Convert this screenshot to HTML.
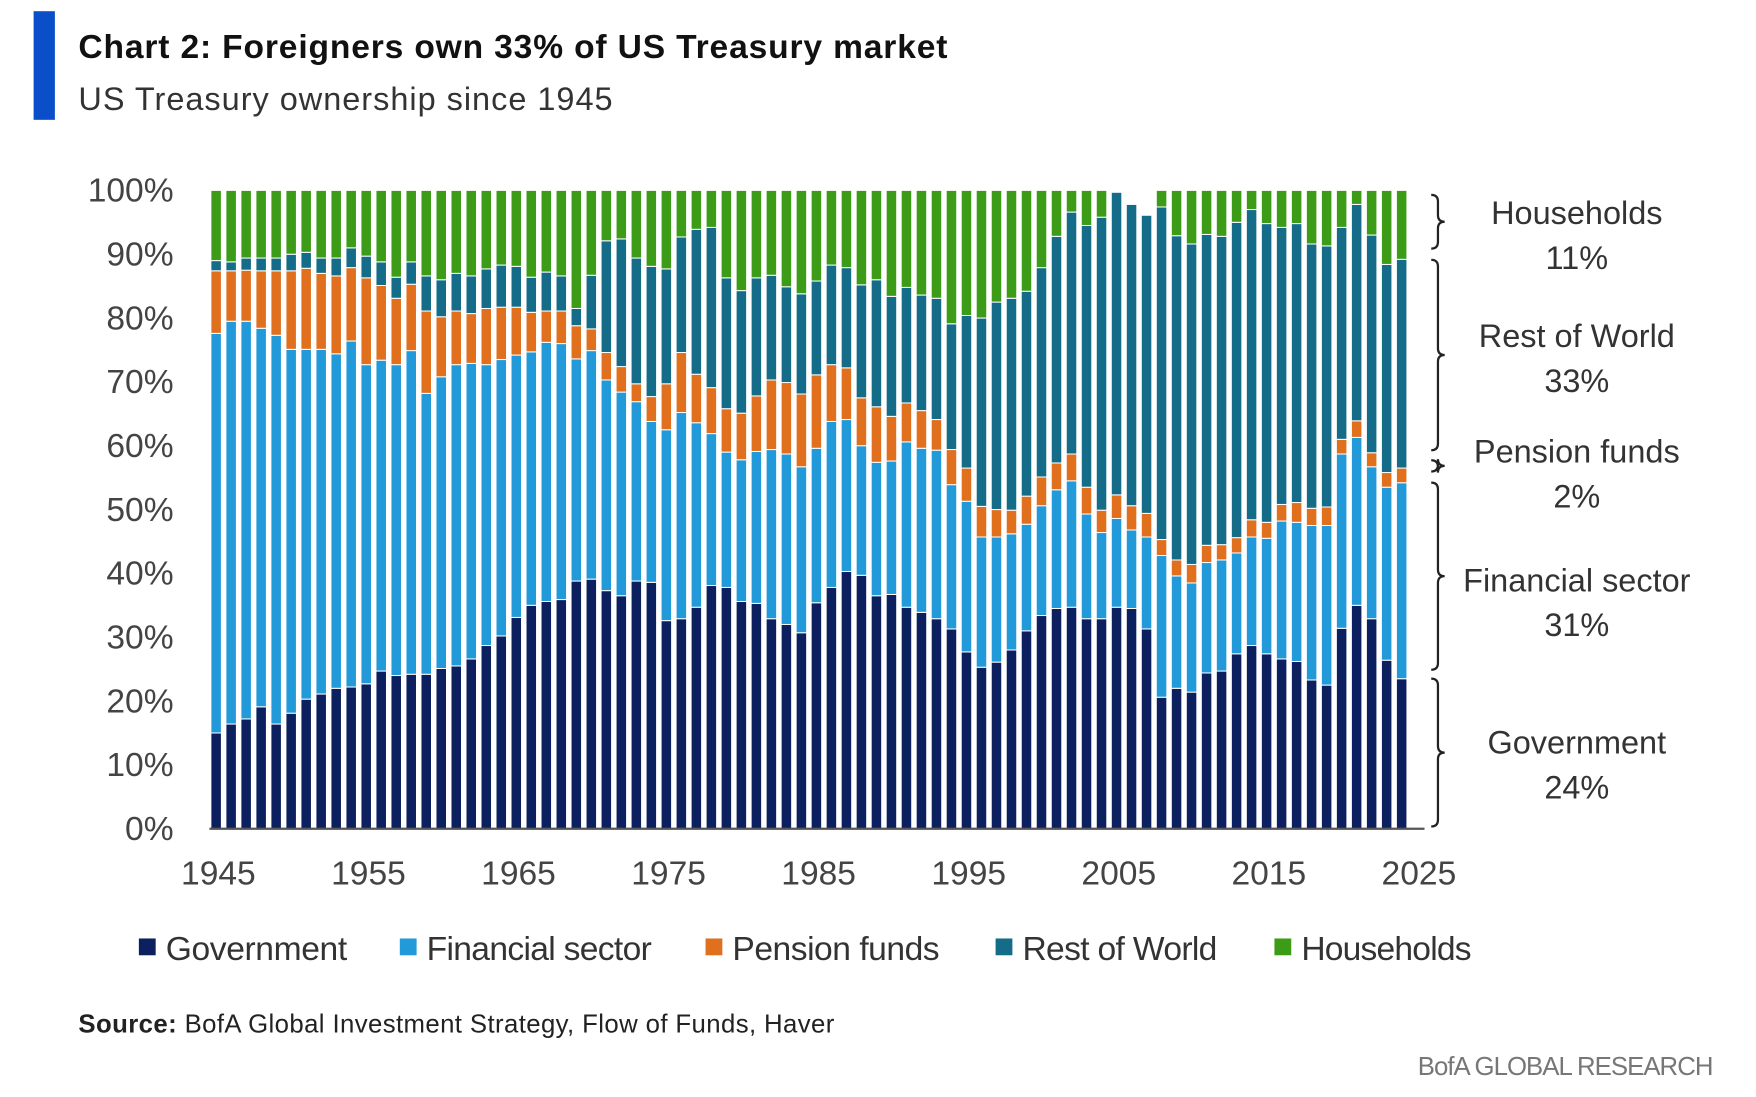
<!DOCTYPE html>
<html><head><meta charset="utf-8">
<style>
html,body{margin:0;padding:0;background:#fff;width:1756px;height:1097px;overflow:hidden}
#wrap{width:1568px;height:980px;transform:scale(1.1199);transform-origin:0 0}
svg text{font-family:"Liberation Sans",sans-serif}
</style></head><body>
<div id="wrap">
<svg id="chart" width="1568" height="980" viewBox="0 0 1568 980">
<rect x="30" y="10" width="19" height="97" fill="#0a4fc9"/>
<text x="70" y="52" font-size="30" font-weight="bold" fill="#111" textLength="776">Chart 2: Foreigners own 33% of US Treasury market</text>
<text x="70" y="98" font-size="29" fill="#333" textLength="477">US Treasury ownership since 1945</text>
<g id="yaxis"></g>
<g id="bars"></g>
<g id="xaxis"></g>
<line x1="187" y1="740" x2="1272" y2="740" stroke="#555" stroke-width="2"/>
<g id="braces" fill="none" stroke="#222" stroke-width="2"></g>
<g id="annot" font-size="29" fill="#333" text-anchor="middle"></g>
<g id="legend"></g>
<text x="70" y="922" font-size="23" fill="#222" textLength="675"><tspan font-weight="bold">Source:</tspan> BofA Global Investment Strategy, Flow of Funds, Haver</text>
<text x="1266" y="960" font-size="23" fill="#777" textLength="264">BofA GLOBAL RESEARCH</text>
</svg>
</div>
<script>
const startYear = 1945;
const government = [15,16.4,17.2,19.1,16.4,18.1,20.3,21.1,22,22.2,22.7,24.7,24,24.2,24.2,25.1,25.5,26.6,28.7,30.2,33.1,35,35.6,35.9,38.8,39.1,37.3,36.5,38.8,38.6,32.6,32.9,34.7,38.1,37.8,35.6,35.3,32.9,32,30.7,35.4,37.8,40.3,39.7,36.5,36.7,34.7,33.9,32.9,31.3,27.7,25.3,26.1,28,31,33.4,34.5,34.7,32.9,32.9,34.7,34.5,31.3,20.6,22,21.4,24.4,24.7,27.4,28.7,27.4,26.6,26.2,23.3,22.5,31.4,35,32.9,26.4,23.5];
const financial = [62.6,63.1,62.3,59.3,60.9,57,54.8,54,52.4,54.2,50,48.7,48.7,50.7,44,45.7,47.2,46.3,44,43.3,41.1,39.7,40.6,40.1,34.8,35.8,33,31.9,28.1,25.2,29.9,32.3,28.9,23.8,21.2,22.2,23.8,26.5,26.7,26,24.2,26,23.8,20.3,20.9,20.9,25.9,25.7,26.4,22.6,23.6,20.4,19.6,18.2,16.7,17.2,18.6,19.8,16.4,13.5,13.9,12.3,14.4,22.2,17.6,17.1,17.3,17.4,15.8,17,18.1,21.6,21.8,24.2,25,27.3,26.3,23.8,27.1,30.7];
const pension = [9.8,7.9,8,9,10.1,12.3,12.7,11.9,12.2,11.5,13.6,11.7,10.4,10.4,12.9,9.4,8.4,7.8,8.8,8.2,7.5,6.2,4.9,5.1,5.2,3.4,4.3,4,2.8,3.9,7.2,9.4,7.6,7.2,6.8,7.3,8.7,10.9,11.2,11.4,11.5,8.9,8.1,7.5,8.7,7,6.1,5.9,4.8,5.5,5.2,4.8,4.3,3.7,4.4,4.5,4.2,4.2,4.2,3.5,3.7,3.8,3.7,2.5,2.5,2.9,2.7,2.4,2.4,2.7,2.5,2.6,3.1,2.7,2.9,2.3,2.6,2.2,2.3,2.3];
const restOfWorld = [1.6,1.4,1.9,2,2,2.6,2.5,2.4,2.8,3.1,3.4,3.7,3.3,3.5,5.5,5.8,5.9,5.9,6.2,6.6,6.4,5.5,6.1,5.5,2.7,8.4,17.5,20,19.7,20.4,18,18.1,22.7,25.1,20.5,19.2,18.5,16.4,15,15.7,14.7,15.6,15.7,17.7,19.9,18.8,18.1,18.1,19,19.7,23.9,29.5,32.5,33.2,32.1,32.8,35.5,37.9,41,45.9,47.4,47.2,46.7,52.1,50.8,50.2,48.7,48.3,49.4,48.6,46.8,43.4,43.7,41.4,40.9,33.2,33.9,34.1,32.6,32.7];
const households = [11,11.2,10.6,10.6,10.6,10,9.7,10.6,10.6,9,10.3,11.2,13.6,11.2,13.4,14,13,13.4,12.3,11.7,11.9,13.6,12.8,13.4,18.5,13.3,7.9,7.6,10.6,11.9,12.3,7.3,6.1,5.8,13.7,15.7,13.7,13.3,15.1,16.2,14.2,11.7,12.1,14.8,14,16.6,15.2,16.4,16.9,20.9,19.6,20,17.5,16.9,15.8,12.1,7.2,3.4,5.5,4.2,0,0,0,2.6,7.1,8.4,6.9,7.2,5,3,5.2,5.8,5.2,8.4,8.7,5.8,2.2,7,11.6,10.8];
const seriesNames = ["Government","Financial sector","Pension funds","Rest of World","Households"];
const yTicks = [0,10,20,30,40,50,60,70,80,90,100];
const xTicks = [1945,1955,1965,1975,1985,1995,2005,2015,2025];
const annotLabels = ["Households","Rest of World","Pension funds","Financial sector","Government"];
const annotValues = ["11%","33%","2%","31%","24%"];

const NS="http://www.w3.org/2000/svg";
const colors=["#0c1f5e","#2299d8","#e0701e","#146c88","#3c9c18"];
const series=[government,financial,pension,restOfWorld,households];
const X0=193, STEP=13.4, BW=9.4;
const xPos=yr=>X0+(yr-startYear)*STEP;
const yPos=v=>740-v*5.7;
function mk(tag,attrs,parent){const e=document.createElementNS(NS,tag);for(const k in attrs)e.setAttribute(k,attrs[k]);parent.appendChild(e);return e;}

const ya=document.getElementById('yaxis');
yTicks.forEach(t=>{
  const e=mk('text',{x:155,y:yPos(t)+10,'font-size':30,fill:'#444','text-anchor':'end'},ya);
  
  
  e.textContent=t+'%';
});
const xa=document.getElementById('xaxis');
xTicks.forEach(t=>{
  const e=mk('text',{x:xPos(t)+2,y:790,'font-size':30,fill:'#444','text-anchor':'middle'},xa);
  
  
  e.textContent=t;
});
const bg=document.getElementById('bars');
for(let i=0;i<government.length;i++){
  let cum=0;
  const x=xPos(startYear+i)-BW/2;
  series.forEach((s,si)=>{
    const v=s[i]; if(!(v>0))return;
    const y1=yPos(cum+v), y0=yPos(cum);
    const r=mk('rect',{x:x,y:y1,width:BW,height:Math.max(0,y0-y1),fill:colors[si],stroke:'#fff','stroke-width':0.9},bg);
    
    
    cum+=v;
  });
}
const br=document.getElementById('braces');
function brace(yt,yb){
  const x=1278,w=6,m=(yt+yb)/2;
  return `M${x} ${yt} Q${x+w} ${yt} ${x+w} ${yt+6} L${x+w} ${m-6} Q${x+w} ${m} ${x+w+6} ${m} Q${x+w} ${m} ${x+w} ${m+6} L${x+w} ${yb-6} Q${x+w} ${yb} ${x} ${yb}`;
}
[[174,222],[232,402],[411,421],[431,598],[606,738]].forEach((r,i)=>{
  const p=mk('path',{d:brace(r[0],r[1])},br);
  
  
});
const an=document.getElementById('annot');
const annotY=[190,300,403,518,663];
annotLabels.forEach((l,i)=>{
  const a=mk('text',{x:1408,y:annotY[i]+10},an);
  
  
  a.textContent=l;
  const b=mk('text',{x:1408,y:annotY[i]+50},an);
  
  
  b.textContent=annotValues[i];
});
const lg=document.getElementById('legend');
const legX=[124,357,630,889,1138], legW=[162,201,185,174,152];
seriesNames.forEach((n,i)=>{
  const g=mk('g',{},lg);
  
  
  mk('rect',{x:legX[i],y:838,width:15,height:15,fill:colors[i]},g);
  const t=mk('text',{x:legX[i]+24,y:857,'font-size':30,fill:'#333',textLength:legW[i]},g);
  t.textContent=n;
});
</script>
</body></html>
